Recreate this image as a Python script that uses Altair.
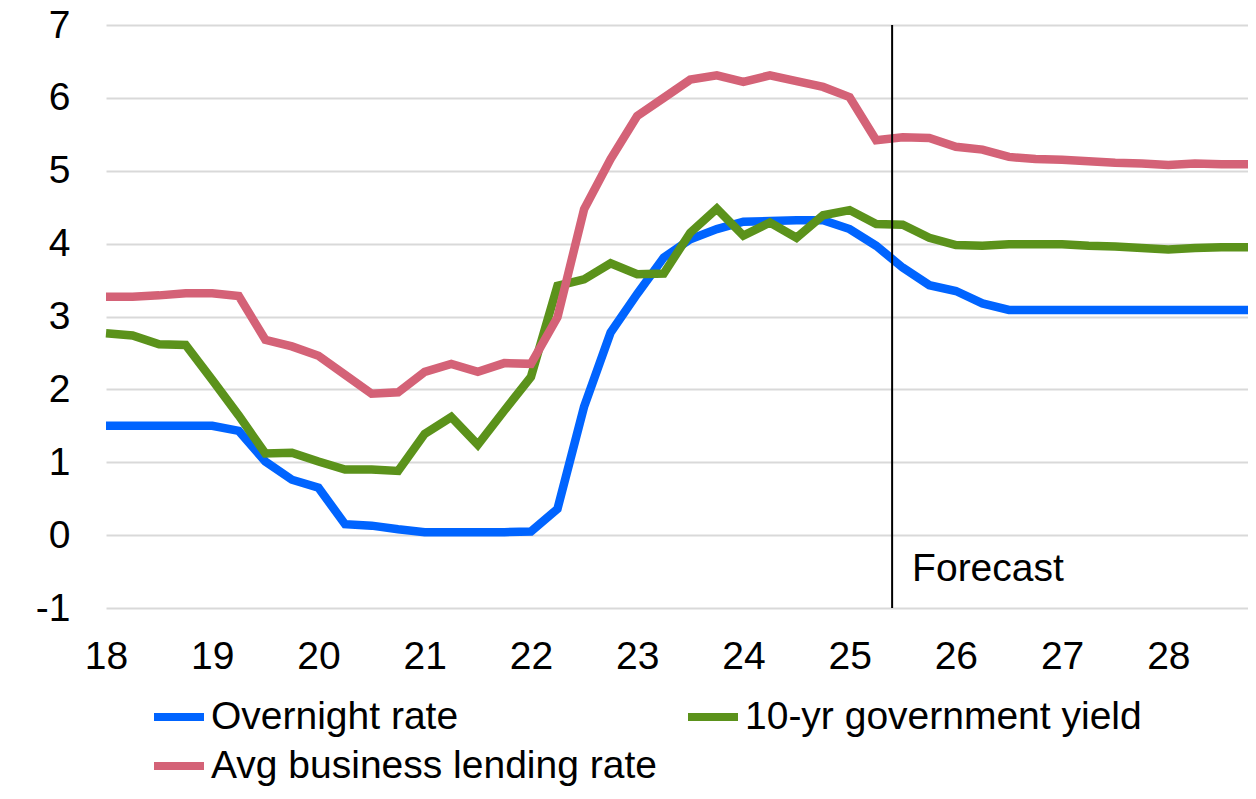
import altair as alt
import pandas as pd

series_names = ["Overnight rate", "10-yr government yield", "Avg business lending rate"]
series_colors = ["#0064FF", "#5B921B", "#D46277"]

start_year = 18
quarters = 44

overnight = [1.5, 1.5, 1.5, 1.5, 1.5, 1.43, 1.01, 0.76, 0.65, 0.15, 0.13, 0.08, 0.04, 0.04, 0.04, 0.04,
             0.05, 0.36, 1.76, 2.78, 3.31, 3.81, 4.06, 4.20, 4.30, 4.31, 4.32, 4.32, 4.20, 3.97,
             3.67, 3.43, 3.35, 3.18, 3.09, 3.09, 3.09, 3.09, 3.09, 3.09, 3.09, 3.09, 3.09, 3.09]
gov10 = [2.77, 2.74, 2.62, 2.61, 2.13, 1.64, 1.12, 1.13, 1.01, 0.90, 0.90, 0.88, 1.39, 1.62, 1.24, 1.71,
         2.17, 3.42, 3.51, 3.73, 3.58, 3.59, 4.15, 4.48, 4.11, 4.29, 4.08, 4.39, 4.46, 4.27,
         4.26, 4.08, 3.98, 3.97, 3.99, 3.99, 3.99, 3.97, 3.96, 3.94, 3.92, 3.94, 3.95, 3.95]
lending = [3.27, 3.27, 3.29, 3.32, 3.32, 3.28, 2.68, 2.59, 2.46, 2.20, 1.94, 1.96, 2.24, 2.35, 2.24, 2.36,
           2.35, 2.99, 4.47, 5.16, 5.75, 6.00, 6.25, 6.31, 6.22, 6.31, 6.23, 6.15, 6.01, 5.42,
           5.46, 5.45, 5.33, 5.29, 5.19, 5.16, 5.15, 5.13, 5.11, 5.10, 5.08, 5.10, 5.09, 5.09]

year_ticks = list(range(18, 29))
y_ticks = list(range(-1, 8))
forecast_start = 25.4
forecast_label = "Forecast"
forecast_label_y = -0.63

FONT = "Liberation Sans"
FS = 39

t = [start_year + 0.25 * i for i in range(quarters)]
rows = []
for name, vals in zip(series_names, [overnight, gov10, lending]):
    for ti, v in zip(t, vals):
        rows.append({"t": ti, "value": v, "series": name})
df = pd.DataFrame(rows)

x_scale = alt.Scale(domain=[start_year, start_year + 0.25 * (quarters - 1)], nice=False, zero=False)
y_scale = alt.Scale(domain=[-1, 7], nice=False, zero=False)

lines = alt.Chart(df).mark_line(strokeWidth=8.5, strokeCap="butt", strokeJoin="miter").encode(
    x=alt.X("t:Q", scale=x_scale,
            axis=alt.Axis(values=year_ticks, title=None, grid=False, domain=False, ticks=False,
                          labelFont=FONT, labelFontSize=FS, labelColor="black", labelPadding=29,
                          labelExpr="'' + datum.value", labelFlush=False)),
    y=alt.Y("value:Q", scale=y_scale,
            axis=alt.Axis(values=y_ticks, title=None, grid=True, gridColor="#d9d9d9", gridWidth=2,
                          domain=False, ticks=False, labelFont=FONT, labelFontSize=FS,
                          labelColor="black", labelPadding=36, labelExpr="'' + datum.value")),
    color=alt.Color("series:N", scale=alt.Scale(domain=series_names, range=series_colors),
                    sort=series_names,
                    legend=alt.Legend(orient="none", legendX=44, legendY=663, direction="horizontal",
                                      columns=2, symbolType="stroke", symbolSize=2500,
                                      symbolStrokeWidth=8, labelFont=FONT, labelFontSize=FS,
                                      labelColor="black", columnPadding=15, rowPadding=0,
                                      title=None, labelLimit=1000, padding=0, labelOffset=3)),
)

fc_df = pd.DataFrame({"t": [forecast_start], "top": [7], "bottom": [-1],
                      "label": [forecast_label], "ly": [forecast_label_y]})
rule = alt.Chart(fc_df).mark_rule(color="black", strokeWidth=2).encode(
    x=alt.X("t:Q", scale=x_scale), y=alt.Y("top:Q", scale=y_scale), y2="bottom:Q")
text = alt.Chart(fc_df).mark_text(align="left", baseline="alphabetic", dx=20, font=FONT,
                                  fontSize=FS, color="black").encode(
    x=alt.X("t:Q", scale=x_scale), y=alt.Y("ly:Q", scale=y_scale), text="label:N")

chart = alt.layer(lines, rule, text).properties(
    width=1142, height=583,
    autosize=alt.AutoSizeParams(type="none"),
    padding={"left": 98, "top": 17, "right": 0, "bottom": 179},
).configure_view(stroke=None)

chart.save("out.html", embed_options={"renderer": "svg", "actions": False})
